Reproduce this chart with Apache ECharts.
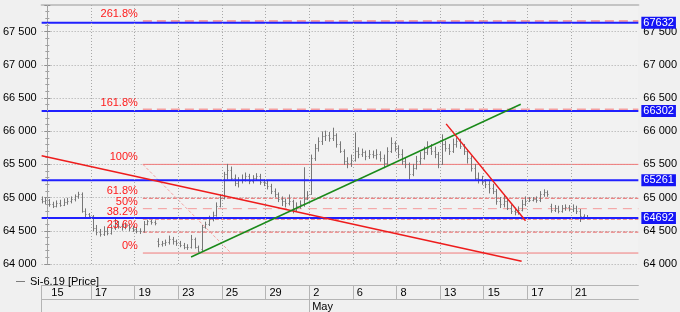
<!DOCTYPE html>
<html><head><meta charset="utf-8">
<script src="https://cdn.jsdelivr.net/npm/echarts@6/dist/echarts.min.js"></script>
<style>html,body{margin:0;padding:0;background:#f0f0f0}#c{width:680px;height:312px}</style>
</head><body><div id="c"></div>
<script>
// ---------- DATA ----------
const seriesName = 'Si-6.19 [Price]';
const dayTickIdx = [0,2,4,6,8,10,12,14,16,18,20,22,24];
const dayTickLabels = ['15','17','19','23','25','29','2','6','8','13','15','17','21'];
const monthIdx = [12];
const monthLabels = ['May'];
const barsPerDay = 6;
const firstDay = -1;
// each day: bars [open, close, low, high]; null = no bar in that slot
const dayBars = [
 [null,null,null,null,[64980,64950,64920,65010],[64950,64960,64910,64990]],
 [[64960,64900,64870,64970],[64900,64880,64850,64930],[64880,64920,64860,64950],[64920,64890,64870,64960],[64890,64930,64880,64980],[64930,64950,64900,64990]],
 [[64950,64980,64920,65010],[64980,65020,64950,65040],[65020,65060,64990,65080],[65060,64800,64780,65070],[64800,64750,64710,64830],[64750,64720,64690,64760]],
 [[64720,64540,64500,64730],[64540,64480,64440,64580],[64480,64450,64420,64520],[64450,64500,64430,64560],[64500,64470,64440,64540],[64470,64540,64450,64590]],
 [[64540,64600,64520,64690],[64600,64570,64540,64640],[64570,64550,64510,64600],[64550,64580,64530,64620],[64580,64540,64500,64600],[64540,64520,64490,64570]],
 [[64520,64500,64470,64550],[64500,64490,64460,64530],[64490,64600,64480,64640],[64600,64640,64590,64660],[64640,64630,64600,64660],[64630,64620,64590,64650]],
 [[64350,64300,64260,64380],[64300,64310,64270,64340],[64310,64330,64280,64360],[64330,64380,64300,64420],[64380,64350,64300,64400],[64350,64320,64280,64360]],
 [[64320,64290,64260,64340],[64290,64260,64230,64310],[64260,64250,64220,64290],[64250,64380,64240,64430],[64380,64260,64240,64390],[64260,64200,64180,64270]],
 [[64220,64560,64200,64580],[64560,64600,64540,64630],[64600,64680,64580,64720],[64680,64740,64650,64780],[64740,64880,64720,64920],[64880,64990,64860,65040]],
 [[65000,65350,64980,65380],[65350,65420,65280,65500],[65420,65300,65260,65460],[65300,65220,65180,65340],[65220,65260,65160,65300],[65260,65280,65220,65340]],
 [[65280,65320,65250,65370],[65320,65250,65210,65350],[65250,65300,65220,65330],[65300,65330,65270,65360],[65330,65240,65200,65350],[65240,65220,65180,65270]],
 [[65220,65180,65130,65250],[65180,65100,65060,65200],[65100,65050,65010,65130],[65050,64980,64940,65070],[64980,64950,64880,65010],[64950,64920,64860,64980]],
 [[64920,64950,64890,65040],[64950,64820,64770,64960],[64820,64880,64800,64920],[64880,64900,64840,64950],[64900,64980,64870,65450],[64980,65040,64970,65090]],
 [[65050,65600,65050,65640],[65600,65750,65560,65800],[65750,65850,65700,65900],[65850,65920,65800,65990],[65920,65950,65860,66000],[65950,65900,65850,65980]],
 [[65900,65950,65860,66045],[65950,65800,65760,65960],[65800,65700,65680,65840],[65700,65550,65500,65720],[65550,65520,65450,65600],[65520,65560,65470,65640]],
 [[65560,65700,65550,65975],[65700,65650,65600,65750],[65650,65680,65620,65730],[65680,65620,65570,65700],[65620,65660,65590,65710],[65660,65640,65600,65700]],
 [[65640,65650,65580,65720],[65650,65600,65550,65690],[65600,65520,65450,65640],[65520,65700,65500,65750],[65700,65820,65680,65900],[65820,65750,65700,65840]],
 [[65750,65650,65600,65780],[65650,65550,65500,65720],[65550,65500,65450,65600],[65500,65350,65280,65520],[65350,65450,65330,65500],[65450,65550,65430,65620]],
 [[65550,65600,65500,65680],[65600,65680,65580,65760],[65680,65750,65650,65840],[65750,65700,65650,65800],[65700,65650,65600,65760],[65650,65500,65450,65680]],
 [[65500,65800,65500,65945],[65800,65750,65700,65850],[65750,65700,65650,65800],[65700,65800,65680,65880],[65800,65850,65760,65900],[65850,65780,65740,65880]],
 [[65780,65700,65650,65800],[65700,65600,65520,65720],[65600,65450,65400,65620],[65450,65300,65270,65500],[65300,65280,65220,65370],[65280,65250,65200,65320]],
 [[65250,65200,65150,65270],[65200,65150,65070,65240],[65150,65100,65060,65200],[65100,64950,64900,65120],[64950,64900,64850,65000],[64900,64950,64860,65040]],
 [[64950,64850,64820,64970],[64850,64800,64760,64890],[64800,64780,64740,64840],[64780,64820,64750,64860],[64820,64900,64800,64960],[64900,64950,64880,65010]],
 [[64950,64970,64940,65000],[64970,64980,64950,65000],[64980,64960,64930,65010],[64960,65050,64940,65090],[65050,65080,65020,65117],[65080,65060,65020,65100]],
 [[64880,64820,64780,64900],[64820,64850,64790,64880],[64850,64800,64770,64870],[64800,64840,64780,64880],[64840,64860,64810,64890],[64860,64830,64800,64880]],
 [[64830,64850,64790,64890],[64850,64800,64760,64870],[64800,64720,64640,64820],[64720,64700,64690,64740],[64700,64710,64690,64730]]
];
const fibNames  = ['0%','23.6%','38.2%','50%','61.8%','100%','161.8%','261.8%'];
const fibValues = [64165,64480,64675,64833,64990,65500,66325,67660];
const fibStart = 4.38;
const fibDiag = [[4.38,65500],[8.42,64165]];
const blueLevels = [67632,66302,65261,64692];
const redLong = [[-0.26,65630],[21.74,64040]];
const greenLine = [[6.59,64105],[21.70,66406]];
const redShort = [[18.28,66110],[21.92,64651]];
const xMin = -0.26, xMax = 27.09;
const yMin = 64000, yMax = 67900;

// ---------- BUILD ----------
const ohlc = [];
dayBars.forEach((bars, i) => {
  bars.forEach((b, s) => {
    if (b) ohlc.push([firstDay + i + (s + 0.5) / barsPerDay, b[0], b[1], b[2], b[3]]);
  });
});
const FONT = "'Liberation Sans', Arial, sans-serif";
const fmtY = v => (v % 500 === 0) ? String(v).replace(/\B(?=(\d{3})+(?!\d))/g, ' ') : '';

function renderOHLC(params, api) {
  const x = api.value(0);
  const pO = api.coord([x, api.value(1)]);
  const pC = api.coord([x, api.value(2)]);
  const pL = api.coord([x, api.value(3)]);
  const pH = api.coord([x, api.value(4)]);
  const px = Math.round(pH[0]) + 0.5;
  const st = {stroke: '#767676', lineWidth: 1};
  const yo = Math.round(pO[1]) + 0.5, yc = Math.round(pC[1]) + 0.5;
  return {type: 'group', children: [
    {type: 'line', shape: {x1: px, y1: pH[1] - 0.5, x2: px, y2: pL[1] + 0.5}, style: st},
    {type: 'line', shape: {x1: px - 1, y1: yo, x2: px, y2: yo}, style: st},
    {type: 'line', shape: {x1: px, y1: yc, x2: px + 1, y2: yc}, style: st}
  ]};
}

const fibStyle = [
  {color: '#f07a7a', type: 'solid', width: 1},
  {color: '#e86060', type: [4, 2], width: 1},
  {color: '#e86060', type: [4, 2], width: 1},
  {color: '#f59a9a', type: [9, 6], width: 1},
  {color: '#e86060', type: [4, 2], width: 1},
  {color: '#f07a7a', type: 'solid', width: 1},
  {color: '#f5a0a0', type: [9, 5], width: 2},
  {color: '#f5a0a0', type: [9, 5], width: 2}
];

const series = [];
series.push({
  name: seriesName, type: 'custom', renderItem: renderOHLC, data: ohlc, z: 3,
  itemStyle: {color: '#7c7c7c'},
  encode: {x: 0, y: [1, 2, 3, 4]},
  markLine: {
    silent: true, symbol: ['none', 'none'], label: {show: false},
    lineStyle: {color: '#a8a8a8', type: [1, 2], width: 1},
    data: dayTickIdx.map(d => ({xAxis: d}))
  }
});
fibValues.forEach((v, i) => {
  series.push({
    type: 'line', silent: true, symbol: 'none', z: 2,
    lineStyle: fibStyle[i],
    data: [[fibStart, v], [xMax, v]]
  });
});
series.push({
  type: 'scatter', silent: true, z: 6, symbol: 'circle', symbolSize: 0.1,
  itemStyle: {color: '#ff2020', opacity: 1},
  data: fibValues.map((v, i) => ({value: [fibStart, v], name: fibNames[i]})),
  label: {show: true, position: 'left', distance: 5, offset: [0, -7], opacity: 1,
    formatter: p => p.name, color: '#ff1a1a', fontSize: 11, fontFamily: FONT,
    textBorderWidth: 0}
});
series.push({type: 'line', silent: true, symbol: 'none', z: 2, data: fibDiag,
  lineStyle: {color: '#f5a0a0', type: [3, 2], width: 1}});
blueLevels.forEach(v => {
  series.push({
    type: 'line', silent: true, symbol: 'none', z: 4, data: [[xMin, v], [xMax, v]],
    lineStyle: {color: '#2020ff', width: 2},
    endLabel: {show: true, formatter: String(v), distance: 3, color: '#ffffff',
      backgroundColor: '#1414f5', padding: [1, 2, 0, 2], fontSize: 11, fontFamily: FONT}
  });
});
series.push({type: 'line', silent: true, symbol: 'none', z: 5, data: redLong, lineStyle: {color: '#ee1c1c', width: 1.5}});
series.push({type: 'line', silent: true, symbol: 'none', z: 5, data: greenLine, lineStyle: {color: '#1a8a1a', width: 1.5}});
series.push({type: 'line', silent: true, symbol: 'none', z: 5, data: redShort, lineStyle: {color: '#ee1c1c', width: 1.5}});

const yCommon = {
  type: 'value', min: yMin, max: yMax, interval: 500,
  axisLine: {show: true, lineStyle: {color: '#a0a0a0'}},
  axisTick: {show: true, length: 3, lineStyle: {color: '#909090'}},
  minorTick: {show: true, splitNumber: 5, length: 2, lineStyle: {color: '#a0a0a0'}},
  axisLabel: {formatter: fmtY, color: '#000', fontSize: 11, fontFamily: FONT, margin: 5, showMaxLabel: false}
};

const option = {
  animation: false,
  backgroundColor: '#f0f0f0',
  grid: {left: 40, right: 40, top: 5, bottom: 48, show: true, backgroundColor: '#f2f2f2', borderWidth: 0},
  legend: {
    data: [{name: seriesName, icon: 'rect'}], left: 11, top: 271, itemWidth: 9, itemHeight: 1,
    itemGap: 5, selectedMode: false,
    textStyle: {color: '#000', fontSize: 11, fontFamily: FONT}
  },
  xAxis: [
    {type: 'value', min: xMin, max: xMax, axisLine: {show: false}, axisTick: {show: false},
     axisLabel: {show: false}, splitLine: {show: false}},
    {type: 'value', min: xMin, max: xMax, position: 'bottom', offset: 21,
     axisLine: {show: true, lineStyle: {color: '#b4b4b4'}},
     axisTick: {show: true, length: 14, customValues: [xMin].concat(dayTickIdx.slice(1)), lineStyle: {color: '#b4b4b4'}},
     axisLabel: {customValues: dayTickIdx, formatter: v => dayTickLabels[dayTickIdx.indexOf(Math.round(v))] || '',
       align: 'left', padding: [0, 0, 0, 4], margin: 2, color: '#000', fontSize: 11, fontFamily: FONT},
     splitLine: {show: false}},
    {type: 'value', min: xMin, max: xMax, position: 'bottom', offset: 35,
     axisLine: {show: true, lineStyle: {color: '#b4b4b4'}},
     axisTick: {show: true, length: 14, customValues: [xMin].concat(monthIdx), lineStyle: {color: '#b4b4b4'}},
     axisLabel: {customValues: monthIdx, formatter: v => monthLabels[monthIdx.indexOf(Math.round(v))] || '',
       align: 'left', padding: [0, 0, 0, 3], margin: 2, color: '#000', fontSize: 11, fontFamily: FONT},
     splitLine: {show: false}},
    {type: 'value', min: xMin, max: xMax, position: 'top',
     axisLine: {show: true, lineStyle: {color: '#c4c4c4', width: 2}},
     axisTick: {show: false}, axisLabel: {show: false}, splitLine: {show: false}}
  ],
  yAxis: [
    Object.assign({}, yCommon, {position: 'left',
      splitLine: {show: true, lineStyle: {color: '#a8a8a8', type: [1, 2]}}}),
    Object.assign({}, yCommon, {position: 'right', splitLine: {show: false}})
  ],
  series: series
};
echarts.init(document.getElementById('c'), null, {renderer: 'canvas'}).setOption(option);
</script></body></html>
